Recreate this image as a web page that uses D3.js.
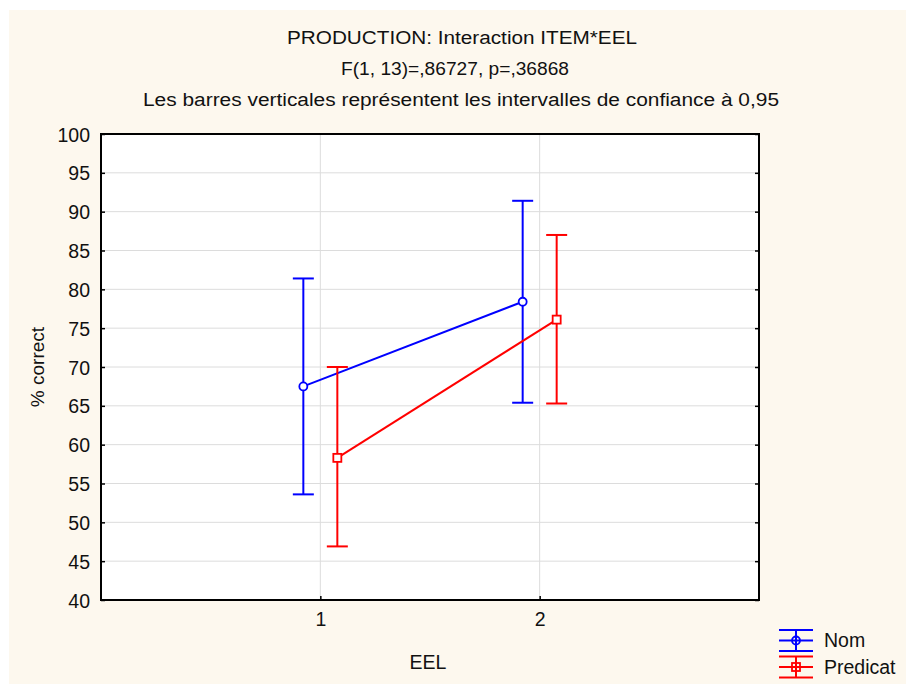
<!DOCTYPE html>
<html><head><meta charset="utf-8">
<script src="https://cdn.jsdelivr.net/npm/d3@7"></script>
<style>
html,body{margin:0;padding:0;background:#fff;}
svg{display:block;}
text{font-family:"Liberation Sans",Arial,sans-serif;fill:#111;}
</style></head>
<body><svg id="chart" width="906" height="684"></svg>
<script>
const categories = [1, 2];
const seriesNames = ["Nom", "Predicat"];
const seriesColors = ["#0000ff", "#ff0000"];
const nomMean = [67.5, 78.4];
const nomLow = [53.6, 65.4];
const nomHigh = [81.4, 91.4];
const predMean = [58.3, 76.1];
const predLow = [46.9, 65.3];
const predHigh = [70.0, 87.0];
const yTicks = [40,45,50,55,60,65,70,75,80,85,90,95,100];
const titleLines = ["PRODUCTION: Interaction ITEM*EEL", "F(1, 13)=,86727, p=,36868",
  "Les barres verticales représentent les intervalles de confiance à 0,95"];
const xLabel = "EEL", yLabel = "% correct";

const series = [
  {name: seriesNames[0], color: seriesColors[0], mean: nomMean, lo: nomLow, hi: nomHigh, off: -17, marker: "circle"},
  {name: seriesNames[1], color: seriesColors[1], mean: predMean, lo: predLow, hi: predHigh, off: 17, marker: "square"}
];

const svg = d3.select("#chart");
svg.append("rect").attr("x",9).attr("y",10).attr("width",897).attr("height",674).attr("fill","#fdf8ee");

const L=101, R=759, T=134, B=600;
const x = d3.scaleLinear().domain([0,3]).range([L,R]);
const y = d3.scaleLinear().domain([40,100]).range([B,T]);

svg.append("rect").attr("x",L).attr("y",T).attr("width",R-L).attr("height",B-T).attr("fill","#fff");

// gridlines
svg.append("g").selectAll("line").data(yTicks.filter(d=>d>40&&d<100)).join("line")
  .attr("x1",L).attr("x2",R).attr("y1",d=>y(d)).attr("y2",d=>y(d))
  .attr("stroke","#dcdcdc").attr("stroke-width",1);
svg.append("g").selectAll("line").data(categories).join("line")
  .attr("x1",d=>x(d)).attr("x2",d=>x(d)).attr("y1",T).attr("y2",B)
  .attr("stroke","#dcdcdc").attr("stroke-width",1);

// axes (inward ticks)
const yAxis = svg.append("g").attr("transform",`translate(${L},0)`)
  .call(d3.axisLeft(y).tickValues(yTicks).tickSize(-4).tickPadding(11).tickFormat(d3.format("d")));
const yAxisR = svg.append("g").attr("transform",`translate(${R},0)`)
  .call(d3.axisRight(y).tickValues(yTicks).tickSize(-4).tickFormat(""));
const xAxis = svg.append("g").attr("transform",`translate(0,${B})`)
  .call(d3.axisBottom(x).tickValues(categories).tickSize(-4).tickPadding(14).tickFormat(d3.format("d")));
[yAxis,yAxisR,xAxis].forEach(g=>{
  g.select(".domain").remove();
  g.selectAll(".tick line").attr("stroke","#000").attr("stroke-width",1.5);
  g.selectAll("text").attr("font-size",19.5).attr("fill","#111").attr("font-family","Liberation Sans, Arial, sans-serif");
});
yAxis.selectAll("text").attr("dy","0.36em");
xAxis.selectAll("text").attr("dy","0.6em");

svg.append("rect").attr("x",L).attr("y",T).attr("width",R-L).attr("height",B-T)
  .attr("fill","none").attr("stroke","#000").attr("stroke-width",2);

// series
const line = d3.line();
series.forEach(s=>{
  const g = svg.append("g");
  const pts = categories.map((c,i)=>[x(c)+s.off, y(s.mean[i])]);
  g.append("path").attr("d",line(pts)).attr("fill","none").attr("stroke",s.color).attr("stroke-width",2);
  categories.forEach((c,i)=>{
    const cx = x(c)+s.off;
    g.append("line").attr("x1",cx).attr("x2",cx).attr("y1",y(s.lo[i])).attr("y2",y(s.hi[i])).attr("stroke",s.color).attr("stroke-width",2);
    [s.lo[i], s.hi[i]].forEach(v=>{
      g.append("line").attr("x1",cx-10.5).attr("x2",cx+10.5).attr("y1",y(v)).attr("y2",y(v)).attr("stroke",s.color).attr("stroke-width",2);
    });
    if (s.marker==="circle") g.append("circle").attr("cx",cx).attr("cy",y(s.mean[i])).attr("r",4).attr("fill","#fff").attr("stroke",s.color).attr("stroke-width",1.8);
    else g.append("rect").attr("x",cx-4).attr("y",y(s.mean[i])-4).attr("width",8).attr("height",8).attr("fill","#fff").attr("stroke",s.color).attr("stroke-width",1.8);
  });
});

// titles
const titleY = [38, 69, 100];
const titleX = [287, 341, 143];
const titleW = [350, 228, 636];
titleLines.forEach((t,i)=>{
  svg.append("text").attr("x",titleX[i]).attr("y",titleY[i]).attr("dy","0.35em")
    .attr("font-size",18).attr("textLength",titleW[i]).attr("lengthAdjust","spacingAndGlyphs").text(t);
});
svg.append("text").attr("x",428).attr("y",662).attr("text-anchor","middle").attr("dy","0.35em").attr("font-size",19.5).text(xLabel);
svg.append("text").attr("transform","translate(37,367) rotate(-90)").attr("text-anchor","middle").attr("dy","0.35em").attr("font-size",19).text(yLabel);

// legend
const legY = [640.5, 667];
series.forEach((s,i)=>{
  const g = svg.append("g").attr("transform",`translate(796,${legY[i]})`);
  [-10.5,0,10.5].forEach(dy=>g.append("line").attr("x1",-17).attr("x2",17).attr("y1",dy).attr("y2",dy).attr("stroke",s.color).attr("stroke-width",2));
  g.append("line").attr("x1",0).attr("x2",0).attr("y1",-10.5).attr("y2",10.5).attr("stroke",s.color).attr("stroke-width",2);
  if (s.marker==="circle") g.append("circle").attr("r",4).attr("fill","none").attr("stroke",s.color).attr("stroke-width",1.8);
  else g.append("rect").attr("x",-4).attr("y",-4).attr("width",8).attr("height",8).attr("fill","none").attr("stroke",s.color).attr("stroke-width",1.8);
  svg.append("text").attr("x",824).attr("y",legY[i]).attr("dy","0.35em").attr("font-size",19.5).text(s.name);
});
</script></body></html>
